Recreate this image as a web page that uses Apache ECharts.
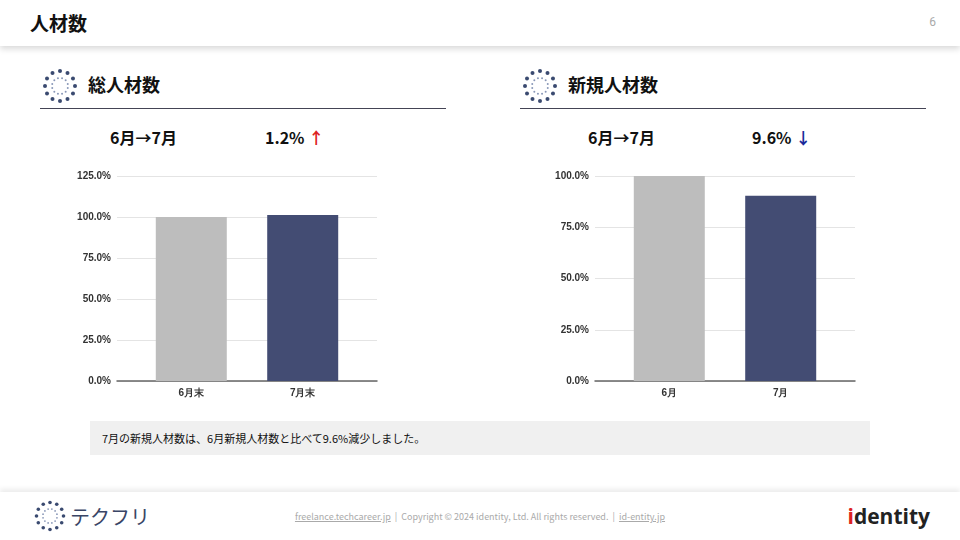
<!DOCTYPE html>
<html lang="ja">
<head>
<meta charset="UTF-8">
<title>人材数</title>
<style>
    body{margin:0;width:960px;height:540px;position:relative;background:#fff;overflow:hidden;
        font-family:"Noto Sans CJK JP","Noto Sans",sans-serif;color:#111;}
    .header{position:absolute;left:0;top:0;width:960px;height:46px;background:#fff;box-shadow:0 3px 6px rgba(0,0,0,0.15);}
    .header h1{position:absolute;left:30px;top:9px;margin:0;font-size:19px;font-weight:bold;}
    .page{position:absolute;right:24px;top:15px;font-size:12px;color:#aaa;font-family:Roboto,sans-serif;}
    .sec{position:absolute;top:64px;width:406px;height:44px;border-bottom:1px solid #445;}
    .sec svg{position:absolute;left:0;top:2px;}
    .sec .t{position:absolute;left:48px;top:7px;font-size:18px;font-weight:bold;}
    .big{position:absolute;top:125px;font-size:16px;font-weight:bold;}
    .chart{position:absolute;top:160px;width:480px;height:250px;}
    .note{position:absolute;left:90px;top:421px;width:780px;height:34px;background:#f0f0f0;font-size:11px;line-height:34px;}
    .note span{margin-left:12px;}
    .footer{position:absolute;left:0;top:492px;width:960px;height:48px;box-shadow:0 -3px 5px rgba(0,0,0,0.08);}
    .footer .c{position:absolute;left:0;width:960px;top:18px;text-align:center;font-size:9px;color:#aaa;}
    .footer .c u{color:#aaa;}
    .logo{position:absolute;left:70px;top:10px;font-size:20px;color:#3a4566;}
    .id{position:absolute;right:30px;top:10px;font-size:21px;font-weight:bold;color:#222;font-family:"Open Sans",sans-serif;}
</style>
<script src="https://cdn.jsdelivr.net/npm/echarts@6/dist/echarts.min.js"></script>
</head>
<body>
<div class="header"><h1>人材数</h1><div class="page">6</div></div>

<div class="sec" style="left:40px;">
    <svg width="40" height="40" viewBox="-20 -20 40 40" class="dots"></svg>
    <div class="t">総人材数</div>
</div>
<div class="sec" style="left:520px;">
    <svg width="40" height="40" viewBox="-20 -20 40 40" class="dots"></svg>
    <div class="t">新規人材数</div>
</div>

<div class="big" style="left:110px;">6月→7月</div>
<div class="big" style="left:265px;">1.2% <span style="color:#d22;">↑</span></div>
<div class="big" style="left:588px;">6月→7月</div>
<div class="big" style="left:752px;">9.6% <span style="color:#1a2a9a;">↓</span></div>

<div id="c1" class="chart" style="left:0px;"></div>
<div id="c2" class="chart" style="left:480px;"></div>

<div class="note"><span>7月の新規人材数は、6月新規人材数と比べて9.6%減少しました。</span></div>

<div class="footer">
    <svg width="36" height="36" viewBox="-20 -20 40 40" class="dots" style="position:absolute;left:32px;top:6px;"></svg>
    <div class="logo">テクフリ</div>
    <div class="c"><u>freelance.techcareer.jp</u> &nbsp;|&nbsp; Copyright © 2024 identity, Ltd. All rights reserved. &nbsp;|&nbsp; <u>id-entity.jp</u></div>
    <div class="id"><span style="color:#d22;">i</span>dentity</div>
</div>

<script type="text/javascript">
    // decorative dotted-circle icons
    document.querySelectorAll('svg.dots').forEach(function (s) {
        var h = '';
        for (var i = 0; i < 12; i++) {
            var a = i * Math.PI / 6;
            h += '<circle cx="' + (15 * Math.cos(a)).toFixed(2) + '" cy="' + (15 * Math.sin(a)).toFixed(2) + '" r="2" fill="#3a4a70"/>';
            var b = a + Math.PI / 12;
            h += '<circle cx="' + (8 * Math.cos(b)).toFixed(2) + '" cy="' + (8 * Math.sin(b)).toFixed(2) + '" r="1" fill="#8a98b8"/>';
        }
        s.innerHTML = h;
    });

    var totalCats = ['6月末', '7月末'];
    var totalVals = [100, 101.2];
    var totalMax = 125;
    var newCats = ['6月', '7月'];
    var newVals = [100, 90.4];
    var newMax = 100;
    var barColors = ['#bdbdbd', '#434c73'];

    function draw(id, cats, vals, ymax, gridLeft) {
        var chart = echarts.init(document.getElementById(id));
        var pos = [1, 2.5];
        chart.setOption({
            animation: false,
            grid: {left: gridLeft, right: 480 - gridLeft - 260, top: 16, bottom: 29},
            xAxis: {
                type: 'value', min: 0, max: 3.5, interval: 0.5,
                splitLine: {show: false},
                axisLine: {show: true, onZero: false, lineStyle: {color: '#666', width: 1.5}},
                axisTick: {show: false},
                axisLabel: {
                    color: '#333', fontSize: 10, fontWeight: 'bold', margin: 7,
                    formatter: function (v) { var i = pos.indexOf(v); return i < 0 ? '' : cats[i]; }
                }
            },
            yAxis: {
                type: 'value', min: 0, max: ymax, interval: 25,
                splitLine: {lineStyle: {color: '#e4e4e4'}},
                axisLine: {show: false}, axisTick: {show: false},
                axisLabel: {color: '#333', fontSize: 10, fontWeight: 'bold', margin: 6,
                    formatter: function (v) { return v.toFixed(1) + '%'; }}
            },
            series: [{
                type: 'bar', barWidth: 71,
                data: vals.map(function (v, i) {
                    return {value: [pos[i], v], itemStyle: {color: barColors[i]}};
                })
            }]
        });
    }
    draw('c1', totalCats, totalVals, totalMax, 117);
    draw('c2', newCats, newVals, newMax, 115);
</script>
</body>
</html>
